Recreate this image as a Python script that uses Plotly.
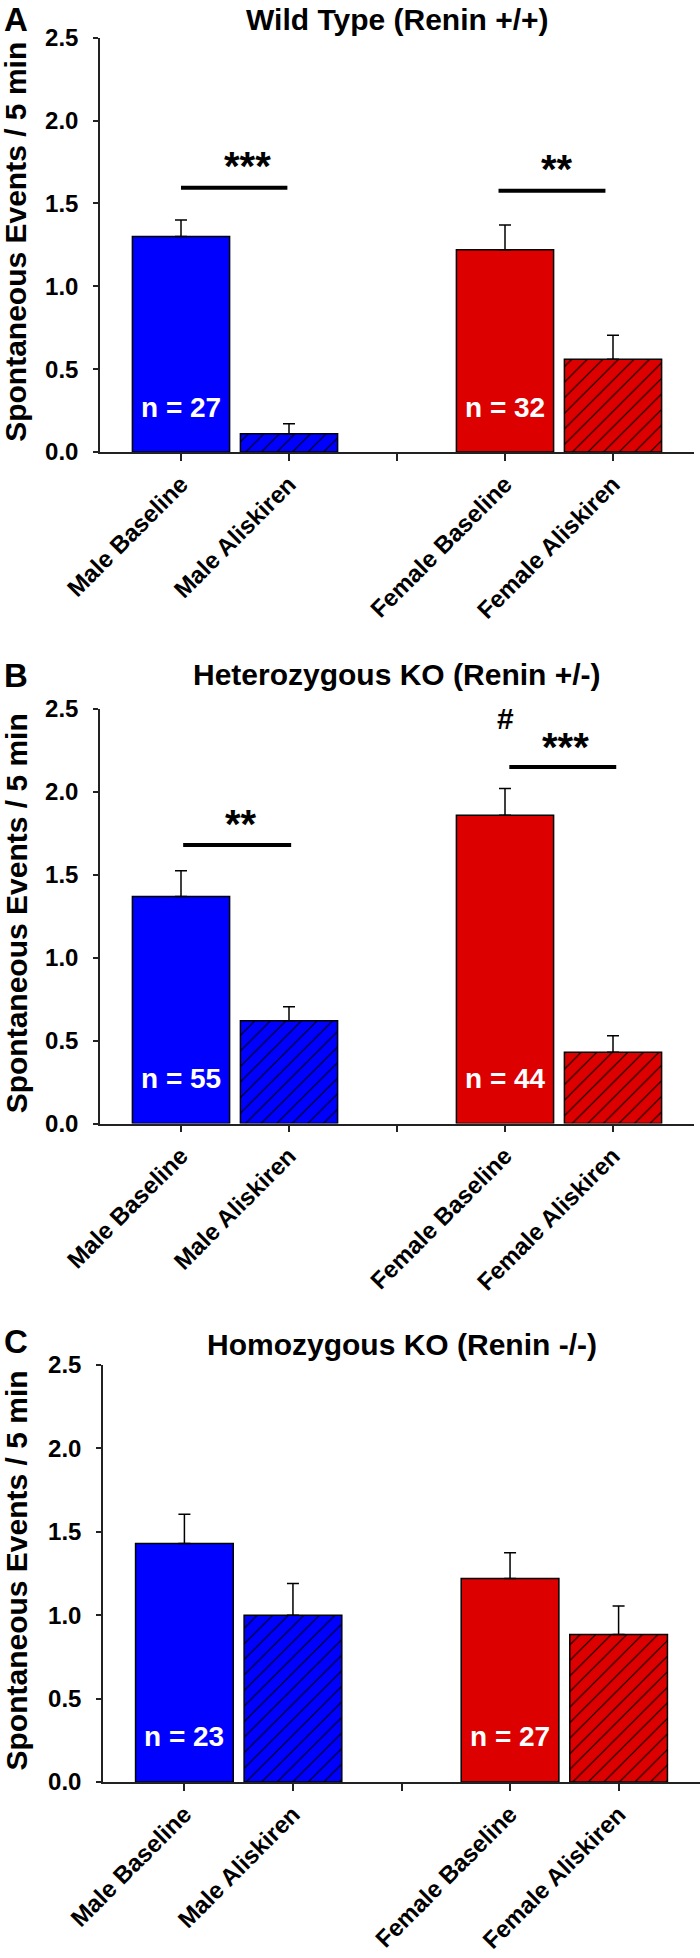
import plotly.graph_objects as go

W, H = 700, 1958
FONT = "Liberation Sans, Arial, sans-serif"

categories = ["Male Baseline", "Male Aliskiren", " ", "Female Baseline", "Female Aliskiren"]
bar_cats = ["Male Baseline", "Male Aliskiren", "Female Baseline", "Female Aliskiren"]
colors = ["#0000FF", "#0000FF", "#DD0000", "#DD0000"]
hatch = ["", "/", "", "/"]

panel_letters = ["A", "B", "C"]
panel_titles = ["Wild Type (Renin +/+)", "Heterozygous KO (Renin +/-)", "Homozygous KO (Renin -/-)"]

A_mean = [1.30, 0.11, 1.22, 0.56]
A_sem = [0.10, 0.06, 0.15, 0.145]
B_mean = [1.37, 0.62, 1.86, 0.43]
B_sem = [0.155, 0.085, 0.16, 0.10]
C_mean = [1.43, 1.00, 1.22, 0.885]
C_sem = [0.175, 0.19, 0.155, 0.17]
means = [A_mean, B_mean, C_mean]
sems = [A_sem, B_sem, C_sem]

n_labels = [["n = 27", "n = 32"], ["n = 55", "n = 44"], ["n = 23", "n = 27"]]
n_label_y = 0.27

# significance brackets
sig_panel = [0, 0, 1, 1]
sig_text = ["***", "**", "**", "***"]
sig_x0 = [0.0, 2.94, 0.02, 3.04]
sig_x1 = [0.985, 3.93, 1.02, 4.03]
sig_line_y = [1.595, 1.577, 1.68, 2.15]
sig_text_x = [0.62, 3.48, 0.56, 3.56]
sig_text_y = [1.79, 1.775, 1.87, 2.34]
hash_panel = 1
hash_x = 3.0
hash_y = 2.44

y_ticks = [0.0, 0.5, 1.0, 1.5, 2.0, 2.5]
y_title = "Spontaneous Events / 5 min"

# layout geometry (pixels from top)
y_top_px = [37.7, 709, 1365]
y_bot_px = [452, 1123.6, 1782]
x_left_px = [100, 100, 103]
x_right_px = [694, 694, 700]
title_px = [20, 674, 1344]
letter_px = [20, 675, 1341]

fig = go.Figure()
layout = dict(template="none", width=W, height=H, barmode="overlay",
              margin=dict(l=0, r=0, t=0, b=0, autoexpand=False),
              plot_bgcolor="white", paper_bgcolor="white", showlegend=False,
              shapes=[], annotations=[])

def py(p):
    return 1 - p / H

for i in range(3):
    sfx = "" if i == 0 else str(i + 1)
    xa, ya = "x" + sfx, "y" + sfx
    for j in range(4):
        fig.add_trace(go.Bar(
            x=[bar_cats[j]], y=[means[i][j]], xaxis=xa, yaxis=ya, width=0.9,
            marker=dict(color=colors[j], line=dict(color="black", width=1.5),
                        pattern=dict(shape=hatch[j], fillmode="replace", bgcolor=colors[j],
                                     fgcolor="black", fgopacity=1, size=11, solidity=0.1)),
            error_y=dict(type="data", symmetric=False, array=[sems[i][j]], arrayminus=[0],
                         color="black", thickness=1.5, width=6),
        ))
    layout["xaxis" + sfx] = dict(
        domain=[x_left_px[i] / W, x_right_px[i] / W], anchor=ya, automargin=False,
        type="category", categoryorder="array", categoryarray=categories,
        range=[-0.75, 4.75], showline=True, linecolor="#222", linewidth=1.5,
        ticks="outside", ticklen=7, tickwidth=1.5, tickcolor="#222",
        tickangle=-45, tickfont=dict(family=FONT, size=24, color="black", weight="bold"),
        showgrid=False, zeroline=False, fixedrange=True)
    layout["yaxis" + sfx] = dict(
        domain=[py(y_bot_px[i]), py(y_top_px[i])], anchor=xa, automargin=False,
        range=[0, 2.5], tickvals=y_ticks, tickformat=".1f",
        showline=True, linecolor="#222", linewidth=1.5,
        ticks="outside", ticklen=5, tickwidth=1.5, tickcolor="#222", ticklabelstandoff=10,
        tickfont=dict(family=FONT, size=24, color="black", weight="bold"),
        showgrid=False, zeroline=False, fixedrange=True)
    cx = (x_left_px[i] + x_right_px[i]) / 2 / W
    layout["annotations"].append(dict(
        text=panel_titles[i], xref="paper", yref="paper", x=cx, y=py(title_px[i]),
        xanchor="center", yanchor="middle", showarrow=False,
        font=dict(family=FONT, size=30, color="black", weight="bold")))
    layout["annotations"].append(dict(
        text=panel_letters[i], xref="paper", yref="paper", x=16 / W, y=py(letter_px[i]),
        xanchor="center", yanchor="middle", showarrow=False,
        font=dict(family=FONT, size=33, color="black", weight="bold")))
    layout["annotations"].append(dict(
        text=y_title, xref="paper", yref="paper", x=16 / W,
        y=py((y_top_px[i] + y_bot_px[i]) / 2 - 3), textangle=-90,
        xanchor="center", yanchor="middle", showarrow=False,
        font=dict(family=FONT, size=30, color="black", weight="bold")))
    for lab, cat in zip(n_labels[i], ["Male Baseline", "Female Baseline"]):
        layout["annotations"].append(dict(
            text=lab, xref=xa, yref=ya, x=categories.index(cat), y=n_label_y,
            xanchor="center", yanchor="middle", showarrow=False,
            font=dict(family=FONT, size=28, color="white", weight="bold")))

for k in range(len(sig_text)):
    sfx = "" if sig_panel[k] == 0 else str(sig_panel[k] + 1)
    xa, ya = "x" + sfx, "y" + sfx
    layout["shapes"].append(dict(type="line", xref=xa, yref=ya,
                                 x0=sig_x0[k], x1=sig_x1[k], y0=sig_line_y[k], y1=sig_line_y[k],
                                 line=dict(color="black", width=4)))
    layout["annotations"].append(dict(
        text=sig_text[k], xref=xa, yref=ya, x=sig_text_x[k], y=sig_text_y[k],
        xanchor="center", yanchor="middle", yshift=-11, showarrow=False,
        font=dict(family=FONT, size=40, color="black", weight="bold")))

hs = "" if hash_panel == 0 else str(hash_panel + 1)
layout["annotations"].append(dict(
    text="#", xref="x" + hs, yref="y" + hs, x=hash_x, y=hash_y,
    xanchor="center", yanchor="middle", showarrow=False,
    font=dict(family=FONT, size=30, color="black", weight="bold")))

fig.update_layout(**layout)
fig.write_html("out.html", config={"displayModeBar": False},
               post_script="document.body.style.margin='0';document.body.style.padding='0';")
